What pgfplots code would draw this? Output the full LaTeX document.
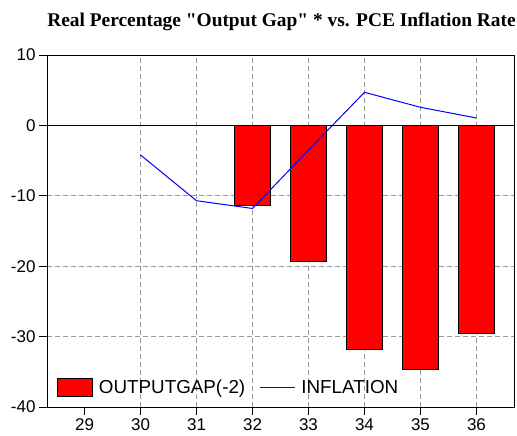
\documentclass[border=0pt]{standalone}
\usepackage{fontspec}
\setmainfont{Liberation Sans}
\newfontfamily\titlefont{Liberation Serif}
\usepackage{pgfplots}
\pgfplotsset{compat=1.18}
\definecolor{lineblue}{RGB}{0,0,255}
\begin{document}
\begin{tikzpicture}
\useasboundingbox (-47pt,-29pt) rectangle (470pt,407pt);
\begin{axis}[
  at={(0pt,0pt)}, anchor=south west,
  scale only axis, width=467pt, height=352pt,
  xmin=28.33, xmax=36.67, ymin=-40, ymax=10,
  xtick={29,...,36},
  xticklabels={29,30,31,32,33,34,35,36},
  ytick={-40,-30,-20,-10,0,10},
  yticklabels={-40,-30,-20,-10,0,10},
  extra x ticks={30,...,36}, extra x tick labels={},
  extra x tick style={grid=major},
  ymajorgrids,
  major grid style={gray!80, dash pattern=on 5pt off 3pt, line width=0.8pt},
  tick align=outside, xtick pos=bottom, ytick pos=left,
  major tick length=8pt,
  tick style={black, line width=0.8pt},
  axis line style={line width=0.8pt},
  ticklabel style={font=\fontsize{17}{20}\selectfont},
  legend style={at={(0,0)}, anchor=south west, xshift=7pt, yshift=8pt,
    draw=none, fill=none, font=\fontsize{18.8}{22}\selectfont,
    /tikz/every odd column/.append style={column sep=4pt},
    /tikz/every even column/.append style={column sep=12pt}},
  legend columns=2,
  legend cell align=left,
]
\addplot[ybar, bar width=0.655, fill=red, draw=black, line width=0.8pt,
  legend image code/.code={\draw[fill=red, draw=black, line width=0.8pt] (0pt,-9pt) rectangle (35pt,9pt);}]
  coordinates {(32,-11.3) (33,-19.3) (34,-31.8) (35,-34.6) (36,-29.6)};
\addlegendentry{OUTPUTGAP(-2)}
\draw[black, line width=1pt] (axis cs:28.33,0) -- (axis cs:36.67,0);
\addplot[lineblue, line width=1pt, mark=none,
  legend image code/.code={\draw[draw=lineblue, line width=1.2pt] (0pt,0pt) -- (35pt,0pt);}]
  coordinates {(30,-4.2) (31,-10.7) (32,-11.8) (33,-3.5) (34,4.7) (35,2.57) (36,1.05)};
\addlegendentry{INFLATION}
\end{axis}
\node[anchor=base, font=\titlefont\bfseries\fontsize{19.4}{22}\selectfont] at (234.5pt,380pt) {Real Percentage "Output Gap" * vs. PCE Inflation Rate};
\end{tikzpicture}
\end{document}
